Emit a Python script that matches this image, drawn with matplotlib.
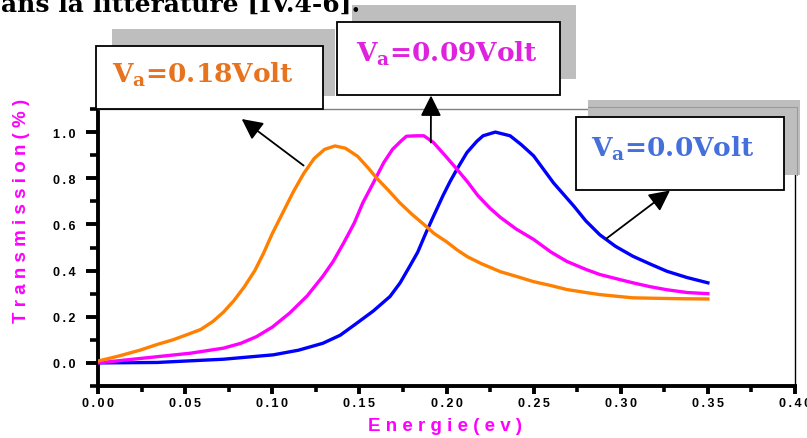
import matplotlib
matplotlib.use("Agg")
import matplotlib.pyplot as plt
from matplotlib.patches import Rectangle
from matplotlib.ticker import FixedLocator, FixedFormatter, MultipleLocator

# ---------------- data ----------------
x_orange = [0.000, 0.012, 0.024, 0.034, 0.043, 0.052, 0.059, 0.066, 0.072, 0.078,
            0.084, 0.090, 0.095, 0.100, 0.106, 0.112, 0.118, 0.124, 0.130, 0.136,
            0.142, 0.149, 0.155, 0.160, 0.167, 0.173, 0.180, 0.187, 0.193, 0.200,
            0.206, 0.212, 0.220, 0.231, 0.240, 0.250, 0.260, 0.269, 0.280, 0.288,
            0.300, 0.307, 0.320, 0.335, 0.350]
y_orange = [0.008, 0.030, 0.055, 0.080, 0.100, 0.125, 0.145, 0.180, 0.220, 0.270,
            0.330, 0.400, 0.475, 0.560, 0.650, 0.740, 0.820, 0.885, 0.925, 0.940,
            0.930, 0.895, 0.845, 0.800, 0.745, 0.695, 0.645, 0.600, 0.560, 0.525,
            0.490, 0.460, 0.430, 0.395, 0.375, 0.352, 0.335, 0.318, 0.305, 0.296,
            0.287, 0.282, 0.280, 0.278, 0.277]

x_magenta = [0.000, 0.015, 0.034, 0.053, 0.072, 0.082, 0.091, 0.100, 0.110, 0.120,
             0.129, 0.135, 0.141, 0.147, 0.152, 0.158, 0.164, 0.169, 0.174, 0.177,
             0.183, 0.187, 0.1925, 0.199, 0.206, 0.212, 0.218, 0.225, 0.231, 0.240,
             0.250, 0.260, 0.269, 0.280, 0.288, 0.300, 0.307, 0.317, 0.3265, 0.338,
             0.350]
y_magenta = [0.000, 0.012, 0.027, 0.042, 0.064, 0.085, 0.114, 0.155, 0.216, 0.290,
             0.375, 0.440, 0.520, 0.605, 0.694, 0.780, 0.868, 0.925, 0.962, 0.982,
             0.984, 0.984, 0.955, 0.900, 0.839, 0.785, 0.725, 0.670, 0.630, 0.580,
             0.535, 0.480, 0.440, 0.405, 0.383, 0.360, 0.347, 0.330, 0.317, 0.305,
             0.300]

x_blue = [0.000, 0.034, 0.050, 0.072, 0.090, 0.1006, 0.115, 0.129, 0.139, 0.1485,
          0.158, 0.1676, 0.1734, 0.179, 0.1835, 0.188, 0.1925, 0.198, 0.202, 0.206,
          0.2117, 0.2174, 0.221, 0.228, 0.2365, 0.243, 0.250, 0.2614, 0.273, 0.280,
          0.288, 0.297, 0.307, 0.317, 0.3265, 0.338, 0.350]
y_blue = [0.000, 0.002, 0.008, 0.016, 0.028, 0.035, 0.055, 0.085, 0.120, 0.172,
          0.225, 0.288, 0.347, 0.420, 0.480, 0.560, 0.635, 0.725, 0.785, 0.839,
          0.911, 0.960, 0.984, 1.000, 0.984, 0.945, 0.897, 0.780, 0.680, 0.615,
          0.555, 0.505, 0.462, 0.428, 0.397, 0.370, 0.347]

x_ticks = [0.00, 0.05, 0.10, 0.15, 0.20, 0.25, 0.30, 0.35, 0.40]
x_tick_labels = ["0.00", "0.05", "0.10", "0.15", "0.20", "0.25", "0.30", "0.35", "0.40"]
y_ticks = [0.0, 0.2, 0.4, 0.6, 0.8, 1.0]
y_tick_labels = ["0.0", "0.2", "0.4", "0.6", "0.8", "1.0"]

series_labels = ["0.0Volt", "0.09Volt", "0.18Volt"]
x_label = "Energie(ev)"
y_label = "Transmission(%)"
heading = "ans la littérature [IV.4-6]."

# ---------------- styling ----------------
plt.rcParams['mathtext.fontset'] = 'custom'
plt.rcParams['mathtext.rm'] = 'DejaVu Serif:bold'
plt.rcParams['mathtext.it'] = 'DejaVu Serif:bold'
plt.rcParams['mathtext.bf'] = 'DejaVu Serif:bold'

SANS = ['Liberation Sans', 'DejaVu Sans']
THIN = "\u2009"


def spaced(s, sep=" "):
    return sep.join(list(s))


W, H = 807, 439
fig = plt.figure(figsize=(W / 100, H / 100), dpi=100)
ax = fig.add_axes([98 / W, 52 / H, 697 / W, 277 / H])

c_orange, c_magenta, c_blue = '#FF8000', '#FF00FF', '#0000FF'
ax.plot(x_blue, y_blue, color=c_blue, lw=2.4, zorder=3)
ax.plot(x_magenta, y_magenta, color=c_magenta, lw=2.4, zorder=3)
ax.plot(x_orange, y_orange, color=c_orange, lw=2.4, zorder=3)

ax.set_xlim(0, 0.4)
ax.set_ylim(-0.1, 1.1)

ax.xaxis.set_major_locator(FixedLocator(x_ticks))
ax.xaxis.set_major_formatter(FixedFormatter([spaced(t, THIN) for t in x_tick_labels]))
ax.xaxis.set_minor_locator(MultipleLocator(0.025))
ax.yaxis.set_major_locator(FixedLocator(y_ticks))
ax.yaxis.set_major_formatter(FixedFormatter([spaced(t, THIN) for t in y_tick_labels]))
ax.yaxis.set_minor_locator(MultipleLocator(0.1))

for lab in ax.get_xticklabels() + ax.get_yticklabels():
    lab.set_family(SANS)
    lab.set_fontweight('bold')
    lab.set_fontsize(9)

ax.tick_params(axis='y', which='major', direction='out', length=9, width=2.8, pad=7)
ax.tick_params(axis='y', which='minor', direction='out', length=6, width=2.6)
ax.tick_params(axis='x', which='major', direction='out', length=6, width=2.8, pad=2)
ax.tick_params(axis='x', which='minor', direction='out', length=4, width=2.6)
ax.tick_params(which='both', right=False, top=False)

for side in ['left', 'bottom']:
    ax.spines[side].set_linewidth(2.8)
    ax.spines[side].set_color('black')
ax.spines['top'].set_linewidth(1.0)
ax.spines['top'].set_color('#808080')
ax.spines['right'].set_linewidth(1.0)
ax.spines['right'].set_color('black')

# ---------------- overlay (figure pixel coords, top-origin) ----------------
ov = fig.add_axes([0, 0, 1, 1], zorder=5)
ov.set_xlim(0, W)
ov.set_ylim(H, 0)
ov.axis('off')
ov.patch.set_visible(False)

fig.text(22 / W, 1 - 211 / H, spaced(y_label), rotation=90, color=c_magenta,
         family=SANS, fontweight='bold', fontsize=13.5, ha='center', va='center')
fig.text(445 / W, 1 - 427 / H, spaced(x_label), color=c_magenta,
         family=SANS, fontweight='bold', fontsize=13.5, ha='center', va='center')

ov.text(360, 12, heading, ha='right', va='baseline', fontsize=18,
        fontweight='bold', family='DejaVu Serif', color='black')


def box(x0, y0, x1, y1, sx0, sy0, sx1, sy1, label, color, tx, ty):
    ov.add_patch(Rectangle((sx0, sy0), sx1 - sx0, sy1 - sy0, facecolor='#BEBEBE',
                           edgecolor='none', zorder=1))
    ov.add_patch(Rectangle((x0, y0), x1 - x0, y1 - y0, facecolor='white',
                           edgecolor='black', lw=1.3, zorder=2))
    ov.text(tx, ty, "V$_\\mathrm{a}$=" + label, color=color, fontsize=19,
            family='DejaVu Serif', fontweight='bold', ha='left', va='baseline', zorder=3)


box(96, 47, 323, 110, 112, 30, 335, 97, series_labels[2], '#E8731F', 112, 83)
box(337, 23, 560, 96, 352, 6, 576, 80, series_labels[1], '#DE22DE', 356, 62)
box(576, 118, 784, 191, 588, 101, 800, 176, series_labels[0], '#4570DC', 591, 157)
ov.plot([588, 797, 797], [108, 108, 176], color='#9A9A9A', lw=0.8, zorder=1.5)

arrow_kw = dict(arrowstyle='-|>,head_length=0.9,head_width=0.45', color='black',
                lw=1.3, shrinkA=0, shrinkB=0, mutation_scale=14)
# arrows from each curve to its label box
ov.annotate('', xy=(241.7, 120), xycoords='data',
            xytext=(x_orange[18] - 0.012, y_orange[17] - 0.03), textcoords=ax.transData,
            arrowprops=arrow_kw, zorder=4)
ov.annotate('', xy=(431, 96.5), xycoords='data',
            xytext=(x_magenta[22] - 0.0015, y_magenta[22]), textcoords=ax.transData,
            arrowprops=arrow_kw, zorder=4)
ov.annotate('', xy=(670, 191.5), xycoords='data',
            xytext=(0.292, 0.54), textcoords=ax.transData,
            arrowprops=arrow_kw, zorder=4)

fig.savefig('out.png', dpi=100)
